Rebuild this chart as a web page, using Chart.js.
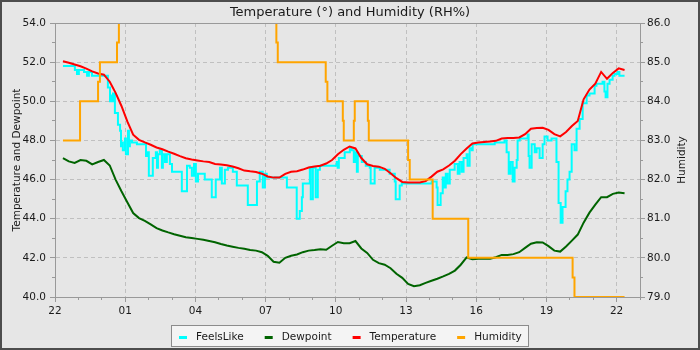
<!DOCTYPE html>
<html>
<head>
<meta charset="utf-8">
<title>Temperature and Humidity</title>
<script src="https://cdn.jsdelivr.net/npm/chart.js@4.4.1/dist/chart.umd.min.js"></script>
<style>
  html, body { margin: 0; padding: 0; background: #e6e6e6; }
  canvas { display: block; }
</style>
</head>
<body>
<canvas id="weather-chart" width="700" height="350"></canvas>
<script>
// Times are clock hours counted from 22:00 on the first evening,
// so anything past 24 belongs to the next day.

// Temperature and dewpoint are logged every 15 minutes from 22:20.
const sampleStart = 22.34;
const sampleStep = 0.25;

const temperature = [
  52.05, 51.97, 51.88, 51.79, 51.67, 51.53, 51.42, 51.36, 51.0, 50.43,
  49.76, 48.97, 48.29, 48.03, 47.9, 47.78, 47.64, 47.55, 47.43, 47.32,
  47.2, 47.09, 47.03, 46.98, 46.93, 46.9, 46.8, 46.77, 46.73, 46.67,
  46.58, 46.46, 46.42, 46.39, 46.3, 46.16, 46.1, 46.1, 46.29, 46.4,
  46.43, 46.51, 46.62, 46.67, 46.71, 46.82, 47.0, 47.29, 47.52, 47.69,
  47.59, 47.1, 46.78, 46.69, 46.66, 46.55, 46.32, 46.07, 45.88, 45.85,
  45.85, 45.85, 45.92, 46.15, 46.4, 46.52, 46.72, 46.96, 47.3, 47.59,
  47.84, 47.89, 47.92, 47.95, 47.98, 48.1, 48.12, 48.13, 48.15, 48.32,
  48.6, 48.64, 48.65, 48.54, 48.32, 48.21, 48.43, 48.74, 48.99, 50.1,
  50.6, 50.9, 51.5, 51.15, 51.45, 51.68, 51.6
];

const dewpoint = [
  47.1, 46.93, 46.85, 47.0, 46.96, 46.78, 46.9, 47.0, 46.72, 46.0,
  45.4, 44.84, 44.29, 44.03, 43.89, 43.71, 43.52, 43.4, 43.3, 43.21,
  43.13, 43.05, 43.02, 42.97, 42.92, 42.86, 42.8, 42.71, 42.63, 42.57,
  42.51, 42.46, 42.4, 42.37, 42.29, 42.1, 41.8, 41.75, 42.0, 42.11,
  42.17, 42.29, 42.37, 42.4, 42.44, 42.41, 42.62, 42.81, 42.75, 42.75,
  42.86, 42.48, 42.25, 41.9, 41.73, 41.65, 41.47, 41.19, 40.98, 40.67,
  40.55, 40.6, 40.72, 40.83, 40.93, 41.05, 41.18, 41.35, 41.65, 42.02,
  41.93, 41.95, 41.95, 41.95, 42.03, 42.15, 42.15, 42.19, 42.29, 42.51,
  42.72, 42.8, 42.79, 42.6, 42.37, 42.32, 42.58, 42.88, 43.19, 43.8,
  44.31, 44.72, 45.1, 45.1, 45.27, 45.34, 45.3
];

// Feels-like changes often, so it is stored at each change.
const feelsLikeTimes = [
  22.34, 22.64, 22.85, 22.94, 23.02, 23.24, 23.37, 23.45, 23.58, 23.71,
  24.22, 24.26, 24.35, 24.39, 24.43, 24.48, 24.56, 24.69, 24.78, 24.82,
  24.86, 24.90, 24.99, 25.03, 25.12, 25.16, 25.20, 25.29, 25.50, 25.80,
  25.89, 25.97, 26.01, 26.14, 26.18, 26.31, 26.36, 26.40, 26.48, 26.57,
  26.61, 26.70, 26.78, 26.91, 27.00, 27.34, 27.42, 27.64, 27.76, 27.85,
  27.94, 28.02, 28.11, 28.40, 28.70, 28.87, 29.05, 29.13, 29.26, 29.39,
  29.60, 29.77, 30.24, 30.63, 30.75, 30.88, 30.97, 31.05, 31.82, 31.91,
  32.33, 32.46, 32.55, 32.59, 32.89, 32.93, 33.02, 33.10, 33.14, 33.23,
  33.32, 33.66, 34.04, 34.08, 34.13, 34.38, 34.60, 34.68, 34.77, 34.85,
  34.90, 34.94, 35.11, 35.28, 35.45, 35.49, 35.66, 35.88, 36.30, 36.52,
  36.56, 36.73, 36.82, 38.10, 38.31, 38.35, 38.48, 38.57, 38.65, 38.70,
  38.78, 38.87, 39.08, 39.21, 39.29, 39.38, 39.46, 39.59, 39.63, 39.72,
  39.81, 39.85, 40.15, 40.79, 41.21, 41.30, 41.39, 41.47, 41.56, 41.64,
  41.73, 41.77, 41.86, 42.20, 42.24, 42.28, 42.37, 42.50, 42.58, 42.71,
  42.84, 42.92, 43.05, 43.22, 43.35, 43.43, 43.52, 43.61, 43.69, 43.82,
  43.90, 43.99, 44.08, 44.20, 44.29, 44.42, 44.55, 44.72, 44.84, 45.06,
  45.14, 45.40, 45.48, 45.53, 45.61, 45.70, 45.83, 45.91, 46.04, 46.12,
  46.34
];

const feelsLike = [
  51.8, 51.8, 51.6, 51.4, 51.6, 51.5, 51.3, 51.5, 51.3, 51.3,
  51.3, 50.7, 50.0, 50.3, 50.0, 50.4, 49.4, 48.8, 48.5, 47.7,
  47.9, 47.5, 48.1, 47.3, 48.5, 47.7, 48.0, 47.9, 47.8, 47.8,
  47.2, 47.4, 46.2, 46.2, 47.1, 47.4, 46.6, 47.3, 47.5, 46.6,
  47.3, 46.9, 47.3, 46.8, 46.4, 46.4, 45.4, 46.7, 46.6, 46.2,
  46.8, 45.9, 46.3, 46.0, 45.1, 46.0, 46.6, 45.8, 46.5, 46.6,
  46.4, 45.7, 44.7, 45.9, 46.4, 45.6, 46.3, 46.1, 46.1, 45.6,
  44.0, 44.4, 45.1, 45.8, 46.6, 45.0, 46.6, 46.6, 45.1, 46.5,
  46.7, 46.7, 46.9, 46.6, 47.1, 47.4, 47.6, 47.5, 46.9, 47.4,
  46.4, 47.2, 46.9, 46.7, 46.6, 45.8, 46.6, 46.5, 46.3, 45.9,
  45.0, 45.7, 45.8, 45.9, 45.6, 44.7, 45.3, 46.1, 45.6, 46.3,
  45.8, 46.5, 46.8, 46.3, 46.9, 46.4, 47.1, 47.3, 46.7, 47.6,
  47.5, 47.8, 47.8, 47.9, 48.0, 47.4, 46.3, 46.9, 45.9, 46.6,
  47.0, 48.0, 48.1, 48.3, 47.2, 46.6, 47.8, 47.4, 47.6, 47.1,
  47.8, 48.2, 48.0, 48.1, 48.1, 46.9, 44.8, 43.8, 44.6, 45.4,
  46.0, 46.4, 47.8, 47.5, 48.6, 49.1, 49.9, 50.3, 50.4, 50.8,
  50.9, 51.0, 50.5, 50.2, 50.9, 51.1, 51.3, 51.4, 51.5, 51.3,
  51.3
];

// Humidity only moves in whole steps; stored at each change.
const humidityTimes = [
  22.34, 23.07, 23.84, 23.92, 24.65, 24.73, 31.46, 31.52, 33.57, 33.64,
  34.30, 34.34, 34.77, 34.81, 35.37, 35.41, 37.09, 37.16, 38.14, 39.66,
  44.12, 44.20, 46.34
];
const humidity = [
  83, 84, 84.5, 85, 85.5, 87, 85.5, 85, 84.5, 84,
  83.5, 83, 83.5, 84, 83.5, 83, 82.5, 82, 81, 80,
  79.5, 79, 79
];

const hourTicks = [22, 25, 28, 31, 34, 37, 40, 43, 46];

const FONT = '"DejaVu Sans", sans-serif';
const SMALL = 10.5;
const INK = '#1a1a1a';
const AXIS = '#999999';
const GRID = '#c0c0c0';
const PAGE_BG = '#e6e6e6';

Chart.defaults.font.family = FONT;
Chart.defaults.font.size = SMALL;
Chart.defaults.color = INK;

const sampleTimes = temperature.map((_, i) => sampleStart + i * sampleStep);

function toPoints(times, values) {
  return values.map((v, i) => ({ x: times[i], y: v }));
}

function series(label, color, times, values, yAxisID, order, stepped) {
  return {
    label,
    data: toPoints(times, values),
    yAxisID,
    order,
    stepped,
    borderColor: color,
    backgroundColor: color,
    borderWidth: 2,
    pointRadius: 0,
    tension: 0,
    fill: false
  };
}

// axis titles, title, minor ticks, legend box and outer frame
const decor = {
  id: 'decor',
  beforeDraw(chart) {
    const { ctx, width, height } = chart;
    ctx.save();
    ctx.fillStyle = PAGE_BG;
    ctx.fillRect(0, 0, width, height);
    ctx.restore();
  },
  afterDraw(chart) {
    const { ctx, chartArea: a, scales } = chart;
    const snap = p => Math.round(p - 0.5) + 0.5;
    ctx.save();

    // top edge of the plot box
    ctx.strokeStyle = AXIS;
    ctx.lineWidth = 1;
    ctx.beginPath();
    ctx.moveTo(a.left, snap(a.top));
    ctx.lineTo(a.right + 1, snap(a.top));
    ctx.stroke();

    // minor ticks
    ctx.beginPath();
    for (let h = 23; h <= 47; h++) {
      if ((h - 22) % 3 === 0) continue;
      const x = snap(scales.x.getPixelForValue(h));
      ctx.moveTo(x, a.bottom);
      ctx.lineTo(x, a.bottom + 3);
    }
    for (let v = 41; v < 54; v += 2) {
      const y = snap(scales.y.getPixelForValue(v));
      ctx.moveTo(a.left - 3, y);
      ctx.lineTo(a.left, y);
    }
    for (let v = 79.5; v < 86; v += 1) {
      const y = snap(scales.y1.getPixelForValue(v));
      ctx.moveTo(a.right, y);
      ctx.lineTo(a.right + 3, y);
    }
    ctx.stroke();

    // chart title
    ctx.fillStyle = INK;
    ctx.font = '13px ' + FONT;
    ctx.textAlign = 'center';
    ctx.textBaseline = 'alphabetic';
    ctx.fillText('Temperature (°) and Humidity (RH%)', chart.width / 2, 15.5);

    // axis titles, both reading bottom to top
    const midY = (a.top + a.bottom) / 2;
    ctx.font = SMALL + 'px ' + FONT;
    ctx.textBaseline = 'middle';
    [[17, 'Temperature and Dewpoint'], [682, 'Humidity']].forEach(([x, text]) => {
      ctx.save();
      ctx.translate(x, midY);
      ctx.rotate(-Math.PI / 2);
      ctx.fillText(text, 0, 0);
      ctx.restore();
    });

    // legend
    const MARK = 8, MARK_GAP = 9, ITEM_GAP = 21, PAD_L = 8, PAD_R = 7;
    const items = chart.data.datasets.map(d => ({
      label: d.label,
      color: d.borderColor,
      w: ctx.measureText(d.label).width
    }));
    const inner = items.reduce((s, it) => s + MARK + MARK_GAP + it.w, 0) + ITEM_GAP * (items.length - 1);
    const boxW = Math.round(inner + PAD_L + PAD_R);
    const boxL = Math.round((chart.width - boxW) / 2);
    const boxT = 325, boxH = 22;
    ctx.fillStyle = '#f4f4f4';
    ctx.fillRect(boxL, boxT, boxW, boxH);
    ctx.strokeStyle = '#8c8c8c';
    ctx.strokeRect(boxL + 0.5, boxT + 0.5, boxW - 1, boxH - 1);
    let x = boxL + PAD_L;
    const cy = boxT + 12;
    ctx.textAlign = 'left';
    items.forEach(it => {
      ctx.fillStyle = it.color;
      ctx.fillRect(x, cy - 1, MARK, 3);
      ctx.fillStyle = INK;
      ctx.fillText(it.label, x + MARK + MARK_GAP, cy);
      x += MARK + MARK_GAP + it.w + ITEM_GAP;
    });

    // outer frame
    ctx.strokeStyle = '#4d4d4d';
    ctx.lineWidth = 2;
    ctx.strokeRect(1, 1, chart.width - 2, chart.height - 2);
    ctx.restore();
  }
};

const tickFont = { family: FONT, size: SMALL };

new Chart(document.getElementById('weather-chart'), {
  type: 'line',
  data: {
    datasets: [
      series('FeelsLike', '#00ffff', feelsLikeTimes, feelsLike, 'y', 4, true),
      series('Dewpoint', '#006400', sampleTimes, dewpoint, 'y', 3, false),
      series('Temperature', '#ff0000', sampleTimes, temperature, 'y', 2, false),
      series('Humidity', '#ffa500', humidityTimes, humidity, 'y1', 1, true)
    ]
  },
  options: {
    responsive: false,
    animation: false,
    devicePixelRatio: 1,
    layout: { padding: { top: 23, bottom: 29, left: 0, right: 0 } },
    plugins: {
      legend: { display: false },
      title: { display: false },
      tooltip: { enabled: false }
    },
    scales: {
      x: {
        type: 'linear',
        min: 22,
        max: 47,
        afterBuildTicks: s => { s.ticks = hourTicks.map(v => ({ value: v })); },
        afterFit: s => { s.height = 24; },
        grid: {
          color: c => (c.tick && c.index > 0) ? GRID : 'transparent',
          tickColor: AXIS,
          tickLength: 5,
          lineWidth: 1
        },
        border: { color: AXIS, width: 1, dash: [4, 3] },
        ticks: {
          font: tickFont,
          color: INK,
          padding: 3,
          maxRotation: 0,
          autoSkip: false,
          callback: v => String(v % 24).padStart(2, '0')
        }
      },
      y: {
        position: 'left',
        min: 40,
        max: 54,
        afterFit: s => { s.width = 55; },
        grid: {
          color: c => (c.tick && c.tick.value > 40 && c.tick.value < 54) ? GRID : 'transparent',
          tickColor: AXIS,
          tickLength: 5,
          lineWidth: 1
        },
        border: { color: AXIS, width: 1, dash: [4, 3] },
        ticks: {
          stepSize: 2,
          font: tickFont,
          color: INK,
          padding: 4,
          callback: v => v.toFixed(1)
        }
      },
      y1: {
        position: 'right',
        min: 79,
        max: 86,
        afterFit: s => { s.width = 60; },
        grid: {
          drawOnChartArea: false,
          tickColor: AXIS,
          tickLength: 5
        },
        border: { color: AXIS, width: 1 },
        ticks: {
          stepSize: 1,
          font: tickFont,
          color: INK,
          padding: 2,
          callback: v => v.toFixed(1)
        }
      }
    }
  },
  plugins: [decor]
});
</script>
</body>
</html>
